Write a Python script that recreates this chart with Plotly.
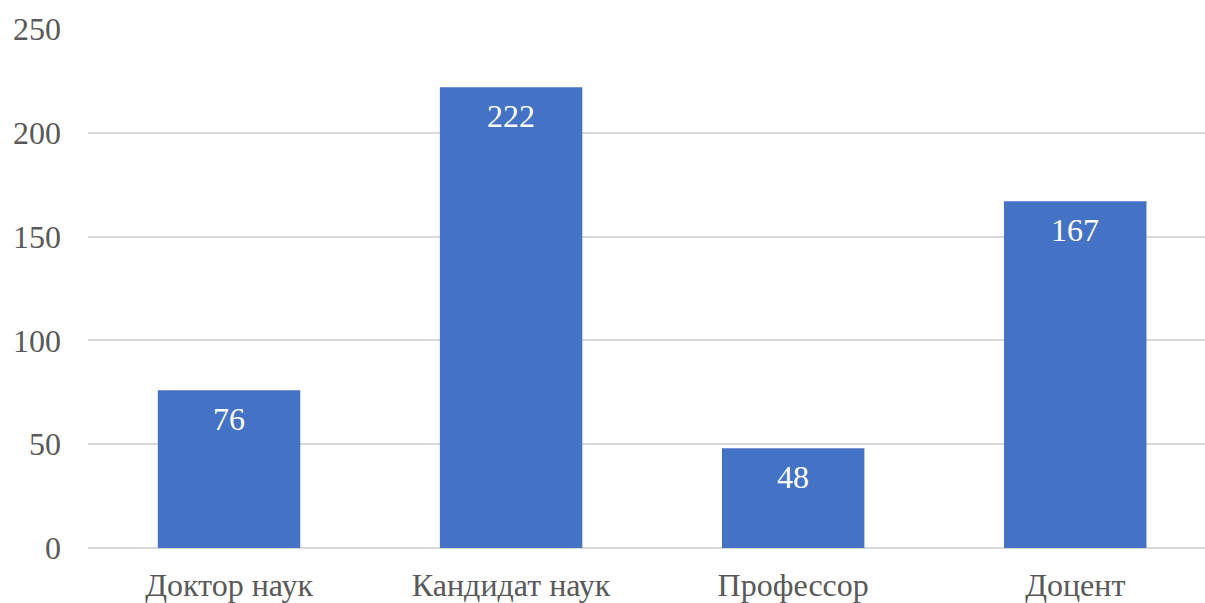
import plotly.graph_objects as go

categories = ["Доктор наук", "Кандидат наук", "Профессор", "Доцент"]
values = [76, 222, 48, 167]
y_ticks = [0, 50, 100, 150, 200, 250]

FONT = "Liberation Serif, Times New Roman, serif"

fig = go.Figure()
fig.add_trace(go.Bar(
    x=categories, y=values,
    marker=dict(color="#4472C4", line=dict(width=0)),
    width=0.505,
    hoverinfo="x+y",
))

for c, v in zip(categories, values):
    fig.add_annotation(x=c, y=v, text=str(v), showarrow=False,
                       yanchor="top", yshift=-9,
                       font=dict(family=FONT, size=32, color="white"))

fig.update_layout(
    width=1205, height=603,
    margin=dict(l=88, r=0, t=29, b=55, autoexpand=False),
    paper_bgcolor="white", plot_bgcolor="white",
    showlegend=False,
    font=dict(family=FONT, size=32, color="#595959"),
    xaxis=dict(
        range=[-0.5, 3.46], showgrid=False, showline=False, ticks="",
        automargin=False,
        tickfont=dict(family=FONT, size=32, color="#595959"),
        ticklabelstandoff=15,
    ),
    yaxis=dict(
        range=[0, 250], tickvals=y_ticks, showgrid=True, automargin=False,
        gridcolor="#d9d9d9", gridwidth=2, zeroline=True,
        zerolinecolor="#d9d9d9", zerolinewidth=2, showline=False, ticks="",
        tickfont=dict(family=FONT, size=32, color="#595959"),
        ticklabelstandoff=26,
    ),
)

fig.write_html(
    "out.html",
    config={"displayModeBar": False},
    post_script="document.body.style.margin='0';document.body.style.overflow='hidden';",
)
